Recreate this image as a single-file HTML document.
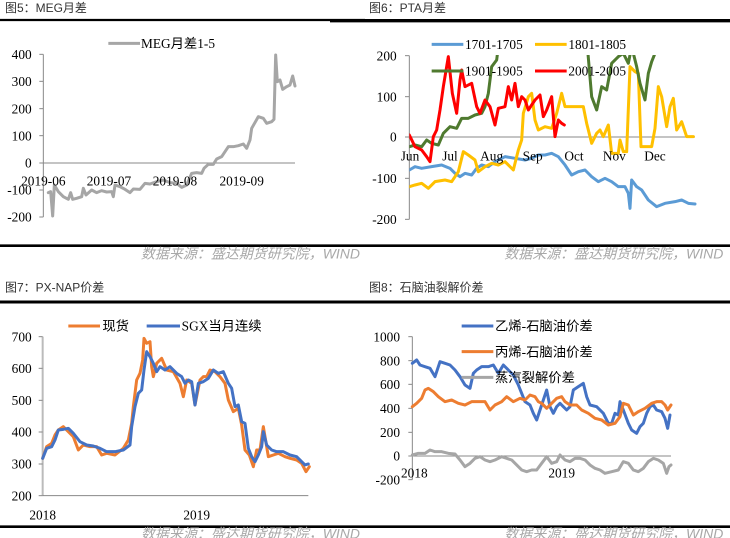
<!DOCTYPE html>
<html><head><meta charset="utf-8"><style>
html,body{margin:0;padding:0;background:#fff;}
svg{display:block;}
.t{font-family:"Liberation Sans","Noto Sans CJK SC",sans-serif;font-size:36px;fill:#333;}
.k{font-family:"Liberation Serif","Noto Serif CJK SC",serif;font-size:40px;fill:#000;}
.l{font-family:"Liberation Serif","Noto Sans CJK SC",serif;font-size:40px;fill:#000;}
.s{font-family:"Liberation Sans","Noto Sans CJK SC",sans-serif;font-size:42px;fill:#a8a8a8;font-style:italic;}
.ln{fill:none;stroke-linejoin:round;stroke-linecap:round;}
</style></head><body>
<svg width="730" height="538" viewBox="0 0 730 538" xmlns="http://www.w3.org/2000/svg">
<defs>
<clipPath id="c2"><rect x="133" y="165" width="870" height="500"/></clipPath>
</defs>

<!-- Chart 1 -->
<g transform="scale(0.33333)">
<text class="t" x="15" y="36">图5：MEG月差</text>
<line x1="0" y1="60" x2="1095" y2="60" stroke="#000" stroke-width="7"/>
<line x1="990" y1="62" x2="1095" y2="62" stroke="#000" stroke-width="10"/>
<line x1="130" y1="163" x2="130" y2="651" stroke="#888" stroke-width="3"/>
<line x1="130" y1="489" x2="885" y2="489" stroke="#888" stroke-width="3"/>
<g stroke="#888" stroke-width="3">
<line x1="118" y1="163" x2="130" y2="163"/><line x1="118" y1="244" x2="130" y2="244"/><line x1="118" y1="326" x2="130" y2="326"/><line x1="118" y1="407" x2="130" y2="407"/><line x1="118" y1="489" x2="130" y2="489"/><line x1="118" y1="570" x2="130" y2="570"/><line x1="118" y1="651" x2="130" y2="651"/>
</g>
<g class="k" text-anchor="end">
<text x="95" y="177">400</text><text x="95" y="258">300</text><text x="95" y="340">200</text><text x="95" y="421">100</text><text x="95" y="503">0</text><text x="95" y="584">-100</text><text x="95" y="665">-200</text>
</g>
<polyline class="ln" stroke="#a6a6a6" stroke-width="9" points="145,578 152,575 158,648 163,555 175,575 190,590 205,598 212,578 218,598 230,595 245,590 250,565 258,585 275,570 290,578 305,572 320,576 335,575 340,590 345,555 360,560 375,568 390,578 400,567 420,568 435,550 450,552 470,545 490,540 510,548 530,550 545,562 560,555 575,520 590,518 605,520 612,505 625,493 640,493 650,477 665,470 685,440 700,440 715,437 730,432 740,445 750,420 755,385 775,350 790,355 800,370 815,365 822,358 827,165 832,245 840,240 848,268 860,260 870,255 878,228 885,258"/>
<g class="k" text-anchor="middle">
<text x="130" y="556">2019-06</text><text x="327" y="556">2019-07</text><text x="525" y="556">2019-08</text><text x="725" y="556">2019-09</text>
</g>
<line x1="325" y1="130" x2="420" y2="130" stroke="#a6a6a6" stroke-width="9"/>
<text class="l" x="423" y="144">MEG月差1-5</text>
<line x1="0" y1="737" x2="1095" y2="737" stroke="#000" stroke-width="8"/>
<text class="s" x="1080" y="775" text-anchor="end">数据来源：盛达期货研究院，WIND</text>
</g>

<!-- Chart 2 -->
<g transform="translate(365,0) scale(0.33333)">
<text class="t" x="12" y="36">图6：PTA月差</text>
<line x1="0" y1="62" x2="1095" y2="62" stroke="#000" stroke-width="10"/>
<line x1="133" y1="167" x2="133" y2="658" stroke="#888" stroke-width="3"/>
<line x1="133" y1="411" x2="990" y2="411" stroke="#888" stroke-width="3"/>
<g stroke="#888" stroke-width="3">
<line x1="120" y1="167" x2="133" y2="167"/><line x1="120" y1="290" x2="133" y2="290"/><line x1="120" y1="411" x2="133" y2="411"/><line x1="120" y1="535" x2="133" y2="535"/><line x1="120" y1="658" x2="133" y2="658"/>
</g>
<g class="k" text-anchor="end">
<text x="95" y="181">200</text><text x="95" y="304">100</text><text x="95" y="425">0</text><text x="95" y="549">-100</text><text x="95" y="672">-200</text>
</g>
<g clip-path="url(#c2)">
<polyline class="ln" stroke="#5b9bd5" stroke-width="9" points="133,510 150,500 170,505 200,500 230,495 255,505 270,520 285,530 300,520 320,525 335,505 350,495 370,500 390,485 420,470 450,475 480,480 500,475 520,465 540,465 560,460 580,470 600,495 620,525 640,515 660,510 680,530 700,545 720,535 740,545 760,560 780,560 790,580 795,625 800,540 815,560 830,570 850,600 875,620 900,610 930,605 950,600 970,610 990,612"/>
<polyline class="ln" stroke="#ffc000" stroke-width="9" points="133,560 150,555 170,550 190,565 210,545 240,540 260,545 280,515 295,455 310,465 330,480 340,515 360,500 380,490 400,495 420,485 445,510 460,450 470,420 475,340 490,290 500,280 510,360 520,390 540,380 560,385 575,340 590,280 600,320 610,320 630,320 655,320 665,370 680,430 695,400 705,390 715,410 730,375 740,460 760,460 765,420 775,455 785,455 795,200 810,215 820,220 828,440 845,440 860,440 870,385 880,260 890,290 905,380 915,320 925,295 935,390 950,365 965,410 985,410"/>
<polyline class="ln" stroke="#4f7a2f" stroke-width="9" points="133,440 150,435 170,440 185,420 200,430 220,435 235,400 255,380 275,385 290,355 310,355 330,345 350,340 360,320 370,280 380,200 395,180 400,140"/>
<polyline class="ln" stroke="#4f7a2f" stroke-width="9" points="668,150 680,290 695,330 710,260 725,270 740,190 760,170 775,160 790,190 800,140 815,200 825,250 840,300 850,220 860,185 870,160 875,140"/>
<polyline class="ln" stroke="#ff0000" stroke-width="9" points="133,405 150,440 170,450 185,470 195,485 205,410 215,390 225,330 235,260 245,200 250,170 262,280 275,340 285,240 290,210 300,260 320,250 335,320 345,340 360,300 375,320 390,375 400,325 420,320 430,260 440,300 450,250 460,320 470,290 480,300 490,330 510,300 525,285 535,350 545,330 560,290 570,410 580,360 590,370 598,375"/>
</g>
<g class="k" text-anchor="middle">
<text x="135" y="482">Jun</text><text x="255" y="482">Jul</text><text x="380" y="482">Aug</text><text x="503" y="482">Sep</text><text x="627" y="482">Oct</text><text x="748" y="482">Nov</text><text x="870" y="482">Dec</text>
</g>
<line x1="200" y1="133" x2="295" y2="133" stroke="#5b9bd5" stroke-width="9"/>
<text class="l" x="300" y="147">1701-1705</text>
<line x1="510" y1="133" x2="605" y2="133" stroke="#ffc000" stroke-width="9"/>
<text class="l" x="610" y="147">1801-1805</text>
<line x1="200" y1="213" x2="295" y2="213" stroke="#4f7a2f" stroke-width="9"/>
<text class="l" x="300" y="227">1901-1905</text>
<line x1="510" y1="213" x2="605" y2="213" stroke="#ff0000" stroke-width="9"/>
<text class="l" x="610" y="227">2001-2005</text>
<line x1="0" y1="737" x2="1095" y2="737" stroke="#000" stroke-width="8"/>
<text class="s" x="1075" y="775" text-anchor="end">数据来源：盛达期货研究院，WIND</text>
</g>

<!-- Chart 3 -->
<g transform="translate(0,270) scale(0.33333)">
<text class="t" x="15" y="64">图7：PX-NAP价差</text>
<line x1="0" y1="96" x2="1095" y2="96" stroke="#000" stroke-width="9"/>
<line x1="128" y1="200" x2="128" y2="677" stroke="#bbb" stroke-width="6"/>
<line x1="128" y1="677" x2="925" y2="677" stroke="#888" stroke-width="3"/>
<g stroke="#888" stroke-width="3">
<line x1="116" y1="200" x2="128" y2="200"/><line x1="116" y1="295" x2="128" y2="295"/><line x1="116" y1="391" x2="128" y2="391"/><line x1="116" y1="486" x2="128" y2="486"/><line x1="116" y1="582" x2="128" y2="582"/><line x1="116" y1="677" x2="128" y2="677"/>
</g>
<g class="k" text-anchor="end">
<text x="95" y="214">700</text><text x="95" y="309">600</text><text x="95" y="405">500</text><text x="95" y="500">400</text><text x="95" y="596">300</text><text x="95" y="691">200</text>
</g>
<polyline class="ln" stroke="#ed7d31" stroke-width="9" points="128,565 140,530 155,520 165,495 175,480 190,470 205,485 220,500 235,540 250,525 270,530 290,530 305,555 320,550 345,555 370,535 385,510 395,460 400,410 410,330 420,310 428,270 432,205 440,220 450,215 455,290 460,320 470,280 485,265 500,300 520,305 540,340 550,380 560,330 575,340 585,405 600,330 610,320 620,320 630,300 645,305 660,320 675,340 685,390 700,425 715,415 725,465 735,540 748,555 760,590 770,540 780,540 790,470 805,560 820,555 835,550 855,560 870,565 890,570 905,580 918,605 928,590"/>
<polyline class="ln" stroke="#4472c4" stroke-width="9" points="128,565 140,535 155,530 165,510 175,480 190,478 205,475 220,490 240,515 260,525 280,528 300,535 320,545 345,545 370,540 390,525 395,470 405,410 415,370 425,360 432,300 440,245 450,260 460,280 470,305 480,290 495,300 510,290 530,310 545,320 555,340 565,330 575,335 585,405 595,340 610,335 625,325 640,300 655,310 670,305 685,340 695,355 705,410 715,405 725,455 735,460 745,535 755,560 765,575 775,555 785,530 790,485 800,525 815,540 830,545 850,545 870,555 890,560 905,575 915,585 925,582"/>
<g class="k" text-anchor="middle">
<text x="128" y="748">2018</text><text x="590" y="748">2019</text>
</g>
<line x1="205" y1="168" x2="300" y2="168" stroke="#ed7d31" stroke-width="9"/>
<text class="l" x="307" y="182">现货</text>
<line x1="440" y1="168" x2="540" y2="168" stroke="#4472c4" stroke-width="9"/>
<text class="l" x="545" y="182">SGX当月连续</text>
<line x1="0" y1="770" x2="1095" y2="770" stroke="#000" stroke-width="8"/>
<text class="s" x="1080" y="805" text-anchor="end">数据来源：盛达期货研究院，WIND</text>
</g>

<!-- Chart 4 -->
<g transform="translate(365,270) scale(0.33333)">
<text class="t" x="12" y="64">图8：石脑油裂解价差</text>
<line x1="0" y1="96" x2="1095" y2="96" stroke="#000" stroke-width="9"/>
<line x1="142" y1="200" x2="142" y2="629" stroke="#888" stroke-width="3"/>
<line x1="142" y1="558" x2="918" y2="558" stroke="#888" stroke-width="3"/>
<g stroke="#888" stroke-width="3">
<line x1="130" y1="200" x2="142" y2="200"/><line x1="130" y1="272" x2="142" y2="272"/><line x1="130" y1="343" x2="142" y2="343"/><line x1="130" y1="415" x2="142" y2="415"/><line x1="130" y1="487" x2="142" y2="487"/><line x1="130" y1="558" x2="142" y2="558"/><line x1="130" y1="629" x2="142" y2="629"/>
</g>
<g class="k" text-anchor="end">
<text x="105" y="214">1000</text><text x="105" y="286">800</text><text x="105" y="357">600</text><text x="105" y="429">400</text><text x="105" y="501">200</text><text x="105" y="572">0</text><text x="105" y="643">-200</text>
</g>
<polyline class="ln" stroke="#4472c4" stroke-width="9" points="142,280 155,270 165,285 180,290 195,295 210,320 225,275 240,280 255,285 270,300 285,320 300,345 315,355 325,310 335,300 350,290 370,290 385,285 400,310 415,285 430,300 445,315 460,345 470,370 480,395 495,405 505,430 515,450 525,420 535,390 545,360 555,410 565,430 575,410 585,400 595,410 605,420 615,410 625,360 640,350 655,340 665,380 675,405 695,410 715,430 730,460 740,460 750,430 760,435 765,395 775,420 790,460 800,480 815,490 825,470 835,460 845,430 855,410 865,405 875,420 890,425 900,445 908,475 915,435"/>
<polyline class="ln" stroke="#ed7d31" stroke-width="9" points="142,410 155,400 170,385 180,360 190,355 205,365 220,380 240,395 260,390 280,400 300,405 320,395 340,395 360,395 375,420 390,405 410,395 425,380 445,395 465,385 480,390 495,375 510,380 520,395 530,400 545,415 560,400 575,385 590,380 600,395 615,405 635,405 650,420 670,430 690,445 710,450 730,465 750,460 765,440 775,400 790,405 805,435 820,425 840,415 860,400 875,395 890,395 900,405 908,420 918,405"/>
<polyline class="ln" stroke="#a6a6a6" stroke-width="9" points="142,555 160,550 180,550 195,540 210,545 230,545 250,550 270,552 285,570 300,590 315,580 330,565 345,560 360,570 375,575 390,570 410,560 425,565 440,570 455,585 470,600 485,605 500,600 515,600 530,580 545,560 560,580 575,575 585,555 600,570 615,575 630,565 645,565 660,570 675,585 690,595 705,600 720,610 740,605 760,600 775,575 790,580 805,600 820,605 835,595 850,575 865,565 880,570 895,580 905,610 912,590 918,585"/>
<g class="k" text-anchor="middle">
<text x="148" y="622">2018</text><text x="590" y="622">2019</text>
</g>
<line x1="290" y1="168" x2="385" y2="168" stroke="#4472c4" stroke-width="9"/>
<text class="l" x="390" y="182">乙烯-石脑油价差</text>
<line x1="290" y1="245" x2="385" y2="245" stroke="#ed7d31" stroke-width="9"/>
<text class="l" x="390" y="259">丙烯-石脑油价差</text>
<line x1="290" y1="322" x2="385" y2="322" stroke="#a6a6a6" stroke-width="9"/>
<text class="l" x="390" y="336">蒸汽裂解价差</text>
<line x1="0" y1="770" x2="1095" y2="770" stroke="#000" stroke-width="8"/>
<text class="s" x="1075" y="805" text-anchor="end">数据来源：盛达期货研究院，WIND</text>
</g>
</svg>
</body></html>
